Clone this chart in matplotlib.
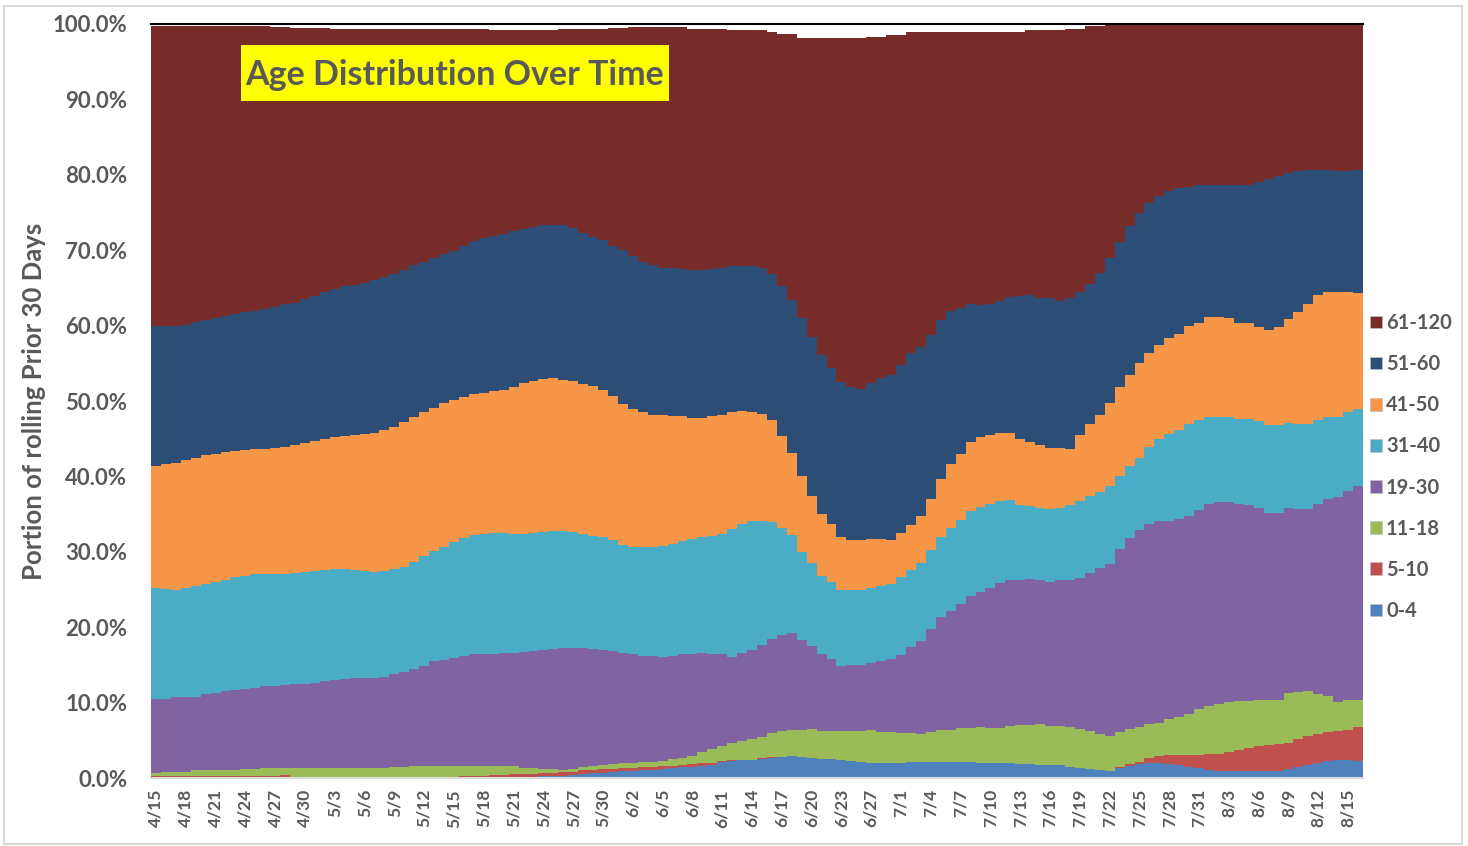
import numpy as np
import pandas as pd
import matplotlib
matplotlib.use('Agg')
import matplotlib.pyplot as plt
from matplotlib.patches import Patch, Rectangle
from matplotlib.ticker import PercentFormatter

plt.rcParams['font.family'] = ['Lato', 'DejaVu Sans']

# daily categories, two days have no data
all_days = pd.date_range('2020-04-15', '2020-08-16')
days = all_days.drop(pd.to_datetime(['2020-06-26', '2020-06-30']))
date_labels = [f'{d.month}/{d.day}' for d in days]

age_groups = ['0-4', '5-10', '11-18', '19-30', '31-40', '41-50', '51-60', '61-120']
colors = ['#4F81BD', '#C0504D', '#9BBB59', '#8064A2',
          '#4BACC6', '#F79646', '#2C4D75', '#772C2A']

# share of cases (%) in rolling prior 30 days, per age group
share_0_4 = ([0] * 36 +
             [0.05, 0.1, 0.15, 0.2, 0.25, 0.3, 0.4, 0.5, 0.6, 0.7, 0.8, 0.9, 0.95,
              1.05, 1.1, 1.2, 1.3, 1.4, 1.5, 1.6, 1.7, 2.1, 2.3, 2.4, 2.4] +
             [2.55, 2.7, 2.85, 2.87, 2.75, 2.7, 2.55, 2.5, 2.37, 2.24, 2.1, 2.05, 1.93,
              1.93, 2.0, 2.1, 2.1, 2.1, 2.1, 2.1, 2.1, 2.1, 2.05, 2.0, 1.93, 1.93, 1.8,
              1.8, 1.7, 1.7, 1.7, 1.52, 1.34, 1.2, 1.03, 0.98, 1.34, 1.57, 1.8, 1.93,
              2.0, 1.88, 1.7, 1.48, 1.34, 1.12, 0.98, 0.98, 0.98, 0.98, 0.98, 0.98,
              0.98, 1.2, 1.48, 1.7, 2.0, 2.3, 2.33, 2.33, 2.24])

share_5_10 = ([0.3] * 4 + [0.22] * 9 + [0.35] + [0.18] * 8 + [0.1] * 2 + [0.18] * 7 +
              [0.27] * 3 + [0.45] * 2 +
              [0.53, 0.48, 0.43, 0.45, 0.45, 0.5, 0.45, 0.5, 0.5, 0.45, 0.45, 0.4, 0.4,
               0.4, 0.4, 0.4, 0.35, 0.35, 0.4, 0.4, 0.35, 0.1, 0.05, 0.05, 0.05, 0.15, 0.1] +
              [0] * 34 +
              [0.1, 0.23, 0.35, 0.67, 0.9, 1.22, 1.4, 1.62, 1.76, 2.08, 2.22, 2.47, 2.72,
               3.02, 3.22, 3.37, 3.52, 3.5, 3.67, 3.9, 3.8, 3.75, 3.87, 4.07, 4.56])

share_11_18 = ([0.37] + [0.5] * 3 + [0.78] * 3 + [0.88] * 2 + [1.03] * 2 + [1.13] * 2 +
               [1.0] + [1.17] * 8 + [1.25] * 2 + [1.27] * 2 + [1.37] * 5 + [1.28] * 3 +
               [1.1] * 2 + [0.97] + [0.77] * 2 +
               [0.5, 0.45, 0.25, 0.4, 0.5, 0.5, 0.55, 0.65, 0.7, 0.65,
                0.65, 0.6, 0.6, 0.85, 0.95, 1.0, 1.4, 1.75, 2.1, 2.35,
                2.45, 2.75, 2.7, 3.15, 3.35, 3.43, 3.65, 3.8, 3.65, 3.7,
                3.83, 3.96, 4.1, 4.25, 4.17, 4.17, 4.0, 3.9, 3.8, 3.95,
                4.25, 4.25, 4.5, 4.5, 4.65, 4.6, 4.67, 4.92, 5.2, 5.2,
                5.5, 5.25, 5.25, 5.28, 5.16, 5.0, 4.87, 4.62, 4.62, 4.7,
                4.65, 4.5, 4.45, 4.75, 5.05, 5.4, 6.0, 6.4, 6.55, 6.65,
                6.5, 6.2, 6.1, 6.05, 5.9, 6.6, 6.25, 5.9, 5.4, 4.85,
                3.9, 3.9, 3.6])

share_19_30 = [9.83, 9.7, 9.9, 9.9, 9.8, 10.1, 10.3, 10.4, 10.6, 10.55,
               10.75, 10.85, 10.85, 10.95, 11.15, 11.15, 11.25, 11.45, 11.65, 11.75,
               11.85, 11.85, 11.95, 12.05, 12.35, 12.65, 12.85, 13.35, 13.95, 14.15,
               14.35, 14.65, 14.85, 14.85, 14.85, 15.05, 15.05, 15.4, 15.45, 15.85,
               15.95, 16.15, 16.05, 15.7, 15.5, 15.3, 15.0, 14.6, 14.4, 14.1,
               14.1, 13.9, 13.7, 13.7, 13.6, 13.2, 12.7, 12.1, 11.4, 11.7,
               11.8, 12.2, 12.55, 12.7, 12.9, 11.9, 11.0, 10.3, 9.6, 8.7,
               8.8, 8.8, 8.9, 9.4, 9.7, 10.3, 11.4, 12.3, 13.65, 14.95,
               15.75, 16.5, 17.5, 18.0, 18.6, 19.3, 19.45, 19.3, 19.4, 19.0,
               19.05, 19.25, 19.5, 20.0, 21.0, 22.0, 22.8, 24.25, 25.3, 26.1,
               26.6, 26.75, 26.25, 26.25, 26.3, 26.4, 26.7, 26.85, 26.5, 26.2,
               26.0, 25.5, 24.8, 24.8, 24.5, 24.3, 24.2, 25.2, 26.1, 27.2,
               27.8, 28.3]

share_31_40 = [14.7, 14.6, 14.3, 14.5, 14.6, 14.6, 14.7, 14.8, 14.9, 15.0,
               15.0, 14.8, 14.8, 14.8, 14.7, 14.8, 14.8, 14.8, 14.7, 14.6,
               14.4, 14.2, 14.0, 14.0, 13.9, 13.9, 14.3, 14.5, 14.6, 14.9,
               15.4, 15.6, 15.8, 16.0, 16.1, 15.9, 15.7, 15.55, 15.7, 15.6,
               15.6, 15.5, 15.3, 15.2, 15.0, 14.9, 14.6, 14.3, 14.3, 14.4,
               14.4, 14.7, 14.9, 15.0, 15.2, 15.3, 15.6, 16.0, 16.9, 17.1,
               17.1, 16.5, 15.5, 14.3, 13.0, 11.7, 11.0, 10.3, 10.2, 10.1,
               10.0, 9.9, 10.0, 9.9, 9.9, 10.3, 10.2, 10.3, 10.5, 10.6,
               11.1, 11.1, 11.3, 11.3, 11.2, 10.8, 10.6, 9.9, 9.7, 9.6,
               9.7, 9.6, 9.9, 10.2, 10.2, 10.0, 10.3, 9.7, 9.6, 9.6,
               10.2, 10.8, 11.5, 11.8, 12.1, 12.0, 11.6, 11.3, 11.3, 11.2,
               11.4, 11.5, 11.6, 11.6, 11.3, 11.2, 11.2, 11.1, 10.9, 10.6,
               10.4, 10.2]

share_41_50 = [16.2, 16.5, 16.8, 17.0, 17.1, 17.1, 17.0, 16.9, 16.8, 16.7,
               16.6, 16.7, 16.8, 16.8, 17.0, 17.1, 17.3, 17.4, 17.5, 17.7,
               17.9, 18.2, 18.5, 18.8, 18.9, 19.2, 19.2, 19.1, 19.0, 19.1,
               18.8, 18.7, 18.7, 18.7, 18.8, 19.0, 19.6, 20.1, 20.2, 20.3,
               20.3, 20.1, 20.0, 19.9, 19.9, 19.5, 19.1, 18.7, 18.2, 17.9,
               17.6, 17.3, 16.9, 16.6, 16.1, 15.9, 15.9, 15.8, 15.5, 15.0,
               14.5, 14.2, 13.5, 12.1, 10.9, 10.0, 8.9, 8.2, 7.7, 7.0,
               6.6, 6.6, 6.5, 6.3, 5.9, 5.9, 6.0, 6.3, 6.8, 7.8,
               8.4, 8.8, 9.2, 9.2, 9.1, 9.0, 8.8, 8.7, 8.5, 8.4,
               8.1, 8.0, 7.5, 8.8, 9.5, 10.3, 11.0, 11.9, 12.1, 12.5,
               12.4, 12.5, 12.7, 12.7, 13.0, 12.9, 13.3, 13.3, 13.1, 12.8,
               12.8, 12.5, 12.6, 13.0, 13.8, 14.9, 15.9, 16.6, 16.6, 16.5,
               16.0, 15.4]

share_51_60 = [18.6, 18.3, 18.1, 17.9, 18.0, 17.9, 18.0, 18.1, 18.1, 18.3,
               18.4, 18.5, 18.7, 18.9, 18.8, 19.1, 19.2, 19.4, 19.7, 19.8,
               19.9, 20.0, 20.2, 20.2, 20.3, 20.2, 20.1, 20.0, 19.9, 19.8,
               19.8, 20.1, 20.3, 20.5, 20.6, 20.6, 20.6, 20.4, 20.4, 20.4,
               20.4, 20.5, 20.4, 20.0, 19.8, 19.9, 20.0, 20.4, 20.3, 19.9,
               19.8, 19.5, 19.7, 19.5, 19.6, 19.6, 19.5, 19.5, 19.4, 19.2,
               19.3, 19.4, 19.3, 19.9, 20.3, 21.0, 21.1, 21.1, 20.7, 20.5,
               20.2, 20.1, 20.7, 21.4, 21.9, 22.3, 22.7, 22.3, 21.8, 21.0,
               20.3, 19.3, 18.3, 17.5, 17.4, 17.5, 18.1, 19.0, 19.4, 19.5,
               19.8, 19.5, 20.0, 19.0, 18.6, 18.8, 19.2, 19.2, 19.7, 19.9,
               20.0, 19.8, 19.6, 19.3, 18.5, 18.2, 17.5, 17.4, 17.6, 18.3,
               18.3, 19.3, 20.1, 20.0, 19.3, 18.7, 17.9, 16.6, 16.1, 16.1,
               16.0, 16.3]

share_61_120 = [39.7, 39.8, 39.8, 39.6, 39.2, 39.0, 38.8, 38.5, 38.3, 38.0,
                37.8, 37.6, 37.1, 36.8, 36.5, 36.0, 35.6, 35.1, 34.4, 34.1,
                33.9, 33.7, 33.3, 32.9, 32.5, 32.0, 31.4, 30.9, 30.4, 29.9,
                29.4, 28.7, 28.1, 27.7, 27.3, 27.1, 26.7, 26.4, 26.1, 25.9,
                25.8, 26.0, 26.3, 27.0, 27.5, 28.0, 28.9, 29.5, 30.4, 31.2,
                31.6, 32.0, 31.9, 32.1, 32.0, 32.0, 31.9, 31.7, 31.3, 31.3,
                31.3, 31.5, 32.1, 33.5, 35.3, 37.2, 39.7, 42.1, 43.8, 45.7,
                46.3, 46.5, 45.9, 45.2, 45.1, 43.8, 42.6, 41.8, 40.1, 38.2,
                37.0, 36.6, 36.0, 36.2, 36.1, 35.8, 35.2, 35.1, 35.2, 35.5,
                35.6, 35.9, 35.6, 34.8, 34.2, 32.7, 31.1, 28.9, 26.8, 25.1,
                23.7, 22.8, 22.1, 21.8, 21.6, 21.4, 21.3, 21.4, 21.4, 21.3,
                21.3, 20.9, 20.5, 20.2, 19.8, 19.5, 19.3, 19.3, 19.4, 19.5,
                19.5, 19.4]

shares = [share_0_4, share_5_10, share_11_18, share_19_30,
          share_31_40, share_41_50, share_51_60, share_61_120]
for s in shares:
    assert len(s) == len(date_labels), (len(s), len(date_labels))

text_gray = '#595959'

fig = plt.figure(figsize=(14.68, 8.46), dpi=100)
ax = fig.add_axes([151 / 1468, 68 / 846, 1212 / 1468, 754 / 846])

x = np.arange(len(date_labels))
bottom = np.zeros(len(x))
for name, vals, col in zip(age_groups, shares, colors):
    vals = np.array(vals, dtype=float)
    ax.bar(x, vals, bottom=bottom, width=1.0, color=col, linewidth=0,
           antialiased=False, label=name)
    bottom += vals

ax.set_xlim(-0.5, len(x) - 0.5)
ax.set_ylim(0, 100)
ax.set_yticks(np.arange(0, 101, 10))
ax.yaxis.set_major_formatter(PercentFormatter(xmax=100, decimals=1))
ax.set_xticks(x[::3])
ax.set_xticklabels(date_labels[::3], rotation=90)

ax.tick_params(axis='y', length=0, pad=17, labelsize=16, labelcolor=text_gray)
ax.tick_params(axis='x', length=0, pad=8, labelsize=12.5, labelcolor=text_gray)
for lbl in ax.get_xticklabels() + ax.get_yticklabels():
    lbl.set_fontweight('bold')

for side in ['left', 'right']:
    ax.spines[side].set_visible(False)
ax.spines['top'].set_color('black')
ax.spines['top'].set_linewidth(1.5)
ax.spines['bottom'].set_color('#D9D9D9')
ax.spines['bottom'].set_linewidth(1.5)

ax.set_ylabel('Portion of rolling Prior 30 Days', fontsize=18.5,
              fontweight='bold', color=text_gray)
ax.yaxis.set_label_coords(-0.0866, 0.5)

# title box
ax.add_patch(Rectangle((0.0743, 0.898), 0.3531, 0.074, transform=ax.transAxes,
                       facecolor='#FFFF00', edgecolor='none', zorder=5))
ax.text(0.2508, 0.932, 'Age Distribution Over Time', transform=ax.transAxes,
        ha='center', va='center', fontsize=24.5, fontweight='bold',
        color=text_gray, zorder=6)

handles = [Patch(facecolor=c, edgecolor='#BFBFBF', linewidth=0.5, label=n)
           for n, c in zip(age_groups, colors)][::-1]
leg = fig.legend(handles=handles, loc='upper left',
                 bbox_to_anchor=(1362 / 1468, 1 - 305 / 846), frameon=False,
                 fontsize=14.5, handlelength=0.6, handleheight=0.6,
                 handletextpad=0.2, labelspacing=1.05, borderaxespad=0)
for t in leg.get_texts():
    t.set_color(text_gray)
    t.set_fontweight('bold')

fig.patches.append(Rectangle((4 / 1468, 2 / 846), 1458 / 1468, 838 / 846,
                             transform=fig.transFigure, fill=False,
                             edgecolor='#D9D9D9', linewidth=1.5))

fig.savefig('out.png', dpi=100)
